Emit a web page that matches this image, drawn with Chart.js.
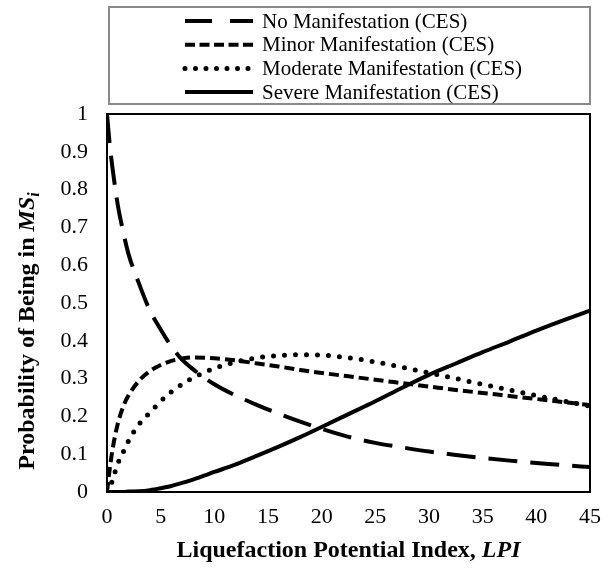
<!DOCTYPE html>
<html><head><meta charset="utf-8">
<script src="https://cdn.jsdelivr.net/npm/chart.js@4/dist/chart.umd.min.js"></script>
<style>html,body{margin:0;padding:0;background:#fff;}#wrap{width:613px;height:578px;position:relative;}</style>
</head><body><div id="wrap"><canvas id="c" width="613" height="578"></canvas></div>
<script>
const lpi = [0,0.25,0.5,1,1.5,2,3,4,5,6,7,8,10,12,14,16,18,20,22.5,25,27.5,30,32.5,35,37.5,40,42.5,45];
const noManifestation = [1.0,0.92,0.86,0.76,0.69,0.63,0.55,0.48,0.43,0.385,0.35,0.325,0.285,0.255,0.23,0.207,0.186,0.167,0.146,0.13,0.118,0.107,0.098,0.09,0.083,0.077,0.071,0.066];
const minorManifestation = [0,0.06,0.11,0.18,0.225,0.255,0.295,0.32,0.336,0.347,0.353,0.356,0.354,0.348,0.34,0.332,0.323,0.315,0.306,0.297,0.288,0.279,0.27,0.262,0.254,0.246,0.238,0.23];
const moderateManifestation = [0,0.01,0.03,0.075,0.105,0.135,0.18,0.21,0.24,0.265,0.285,0.302,0.327,0.344,0.355,0.361,0.363,0.362,0.355,0.344,0.33,0.315,0.3,0.285,0.27,0.255,0.241,0.227];
const severeManifestation = [0,0,0,0,0,0.001,0.002,0.005,0.01,0.016,0.024,0.033,0.053,0.073,0.096,0.12,0.145,0.172,0.206,0.24,0.276,0.31,0.34,0.37,0.398,0.427,0.454,0.48];
const seriesNames = ["No Manifestation (CES)","Minor Manifestation (CES)","Moderate Manifestation (CES)","Severe Manifestation (CES)"];
const xTickValues = [0,5,10,15,20,25,30,35,40,45];
const yTickValues = [0,0.1,0.2,0.3,0.4,0.5,0.6,0.7,0.8,0.9,1];
const yTickLabels = ["0","0.1","0.2","0.3","0.4","0.5","0.6","0.7","0.8","0.9","1"];

const FONT = '"Liberation Serif","Times New Roman",serif';
const toXY = arr => arr.map((v,i)=>({x:lpi[i], y:v}));

const styles = [
  {dash:[29,13], legendDash:[27,18], cap:'butt', width:4},
  {dash:[10,5], legendDash:[10,4.5], cap:'butt', width:4},
  {dash:[0,11], legendDash:[0,10.5], cap:'round', width:5},
  {dash:[], legendDash:[], cap:'butt', width:4}
];
const allSeries = [noManifestation, minorManifestation, moderateManifestation, severeManifestation];

function drawRich(ctx, segs, cx, cy){
  let total = 0;
  segs.forEach(s=>{ctx.font=s.font; s.w=ctx.measureText(s.text).width; total+=s.w;});
  let x = cx - total/2;
  ctx.textAlign='left'; ctx.textBaseline='alphabetic';
  segs.forEach(s=>{ctx.font=s.font; ctx.fillText(s.text, x, cy + (s.dy||0)); x+=s.w;});
}

const decor = {
  id:'decor',
  afterDraw(chart){
    const ctx = chart.ctx, a = chart.chartArea;
    ctx.save();
    ctx.setLineDash([]);
    ctx.strokeStyle = '#000'; ctx.lineWidth = 2;
    ctx.strokeRect(a.left, a.top, a.right-a.left, a.bottom-a.top);
    ctx.strokeStyle = '#8a8a8a'; ctx.lineWidth = 2;
    ctx.strokeRect(109, 7, 481, 97);
    chart.data.datasets.forEach((ds,i)=>{
      const y = 21 + i*23.7;
      ctx.beginPath();
      ctx.setLineDash(styles[i].legendDash);
      ctx.lineCap = styles[i].cap;
      ctx.lineWidth = styles[i].width;
      ctx.strokeStyle = '#000';
      ctx.moveTo(185, y); ctx.lineTo(253, y); ctx.stroke();
      ctx.setLineDash([]);
      ctx.fillStyle = '#000';
      ctx.font = '21px ' + FONT;
      ctx.textAlign = 'left'; ctx.textBaseline = 'middle';
      ctx.fillText(ds.label, 262, y+1);
    });
    ctx.fillStyle = '#000';
    drawRich(ctx, [
      {font:'bold 24px '+FONT, text:'Liquefaction Potential Index, '},
      {font:'italic bold 24px '+FONT, text:'LPI'}
    ], (a.left+a.right)/2, 557);
    ctx.save();
    ctx.translate(34, 331);
    ctx.rotate(-Math.PI/2);
    drawRich(ctx, [
      {font:'bold 24px '+FONT, text:'Probability of Being in '},
      {font:'italic bold 24px '+FONT, text:'MS'},
      {font:'italic bold 16px '+FONT, text:'i', dy:5}
    ], 0, 0);
    ctx.restore();
    ctx.restore();
  }
};

new Chart(document.getElementById('c'), {
  type:'line',
  data:{
    datasets: allSeries.map((arr,i)=>({
      label: seriesNames[i],
      data: toXY(arr),
      borderColor:'#000',
      borderWidth: styles[i].width,
      borderDash: styles[i].dash,
      borderCapStyle: styles[i].cap,
      pointRadius:0,
      fill:false,
      cubicInterpolationMode:'monotone'
    }))
  },
  options:{
    responsive:false,
    devicePixelRatio:1,
    animation:false,
    layout:{padding:{top:114, right:20, bottom:0, left:0}},
    plugins:{legend:{display:false}, tooltip:{enabled:false}},
    scales:{
      x:{
        type:'linear', min:0, max:45,
        grid:{display:false, drawTicks:false},
        border:{display:false},
        afterFit(s){ s.height = 86; },
        afterBuildTicks(s){ s.ticks = xTickValues.map(v=>({value:v})); },
        ticks:{color:'#000', font:{family:FONT, size:22}, padding:12, maxRotation:0}
      },
      y:{
        type:'linear', min:0, max:1,
        grid:{display:false, drawTicks:false},
        border:{display:false},
        afterFit(s){ s.width = 107; },
        afterBuildTicks(s){ s.ticks = yTickValues.map(v=>({value:v})); },
        ticks:{color:'#000', font:{family:FONT, size:22}, padding:19,
          callback:(v)=>{ const k = yTickValues.findIndex(t=>Math.abs(t-v)<1e-9); return k>=0 ? yTickLabels[k] : ''; }}
      }
    }
  },
  plugins:[decor]
});
</script></body></html>
